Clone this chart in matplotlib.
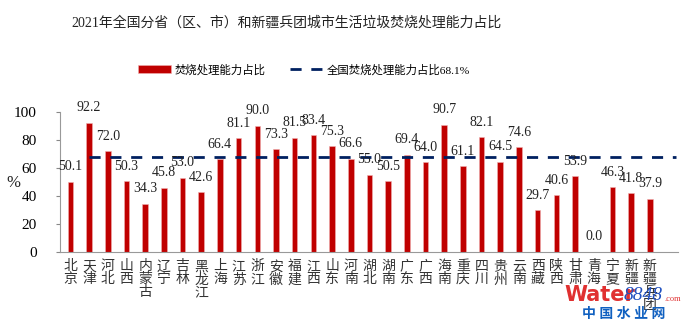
import matplotlib
matplotlib.use("Agg")
import matplotlib.pyplot as plt

plt.rcParams['font.family'] = ['Liberation Serif', 'Noto Sans CJK SC']

# data
provinces = ['北京', '天津', '河北', '山西', '内蒙古', '辽宁', '吉林', '黑龙江', '上海', '江苏',
             '浙江', '安徽', '福建', '江西', '山东', '河南', '湖北', '湖南', '广东', '广西',
             '海南', '重庆', '四川', '贵州', '云南', '西藏', '陕西', '甘肃', '青海', '宁夏',
             '新疆', '新疆兵团']
ratio = [50.1, 92.2, 72.0, 50.3, 34.3, 45.8, 53.0, 42.6, 66.4, 81.1,
         90.0, 73.3, 81.5, 83.4, 75.3, 66.6, 55.0, 50.5, 69.4, 64.0,
         90.7, 61.1, 82.1, 64.5, 74.6, 29.7, 40.6, 53.9, 0.0, 46.3,
         41.8, 37.9]
national = 68.1

fig = plt.figure(figsize=(6.91, 3.31), dpi=100)
ax = fig.add_axes([0.087, 0.239, 0.894, 0.423])

x = list(range(len(provinces)))
bars = ax.bar(x, ratio, width=0.3, color='#C00000', edgecolor='#F0B0B0', linewidth=0.4,
              label='焚烧处理能力占比', zorder=2)
line, = ax.plot([1, len(provinces) + 0.4], [national, national], ls=(0, (4, 3.5)), lw=2,
                color='#002060', label='全国焚烧处理能力占比68.1%', zorder=3)

for xi, v in zip(x, ratio):
    ax.text(xi, v + 6, '%.1f' % v, ha='center', va='bottom', fontsize=10, color='#222222', zorder=4)

ax.set_xlim(-0.55, 32.5)
ax.set_ylim(0, 100)
ax.set_yticks([0, 20, 40, 60, 80, 100])
ax.tick_params(axis='y', labelsize=11, length=3, color='#888888', pad=14)
ax.set_xticks([])
for s in ['top', 'right']:
    ax.spines[s].set_visible(False)
ax.spines['left'].set_color('#999999')
ax.spines['bottom'].set_color('#999999')
fig.text(0.02, 0.447, '%', ha='center', va='center', fontsize=12, color='#222222')

for xi, name in zip(x, provinces):
    ax.text(xi, -6, '\n'.join(name), ha='center', va='top', fontsize=10,
            color='#333333', linespacing=1.0)

fig.text(0.415, 0.93, '2021年全国分省（区、市）和新疆兵团城市生活垃圾焚烧处理能力占比',
         ha='center', va='center', fontsize=10, color='#222222')

fig.legend([bars, line], ['焚烧处理能力占比', '全国焚烧处理能力占比68.1%'],
           loc='center', bbox_to_anchor=(0.44, 0.79), ncol=2, frameon=False,
           fontsize=8.2, handlelength=2.9, handletextpad=0.3, columnspacing=2.2)

# watermark
fig.text(0.817, 0.108, 'Water', ha='left', va='center', fontsize=15,
         color='#E03030', fontweight='bold', family='DejaVu Sans')
fig.text(0.903, 0.108, '8848', ha='left', va='center', fontsize=14,
         color='#2050C0', style='italic')
fig.text(0.962, 0.098, '.com', ha='left', va='center', fontsize=6, color='#E03030')
fig.text(0.902, 0.05, '中 国 水 业 网', ha='center', va='center', fontsize=10,
         color='#1060C0', fontweight='bold')

fig.savefig('out.png', dpi=100)
